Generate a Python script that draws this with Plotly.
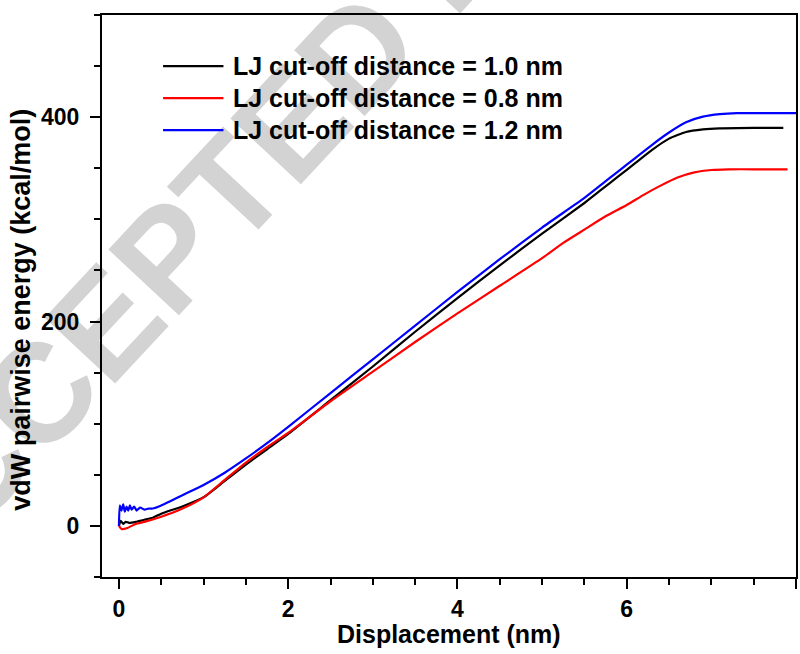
import plotly.graph_objects as go

# ---------------- data ----------------
series_names = ["LJ cut-off distance = 1.0 nm",
                "LJ cut-off distance = 0.8 nm",
                "LJ cut-off distance = 1.2 nm"]
series_colors = ["#000000", "#ff0000", "#0000ff"]

x_10 = [0, 0.02, 0.05, 0.08, 0.12, 0.2, 0.3, 0.4, 0.5, 0.75, 1.0, 1.25, 1.5, 1.75,
        2.0, 2.5, 3.0, 3.5, 4.0, 4.5, 5.0, 5.5, 5.7, 5.9, 6.1, 6.3, 6.5, 6.7,
        6.9, 7.1, 7.5, 7.85]
y_10 = [0, 5, 2, 4, 3, 4, 6, 8, 12, 19, 28, 44, 60, 75,
        90, 123, 156, 190, 223, 255, 286, 316, 329, 342, 355, 368, 379, 385.5,
        388, 389, 389.5, 389.5]

x_08 = [0, 0.03, 0.1, 0.2, 0.3, 0.5, 0.75, 1.0, 1.25, 1.5, 1.75, 2.0, 2.5, 3.0,
        3.5, 4.0, 4.5, 5.0, 5.25, 5.5, 5.75, 6.0, 6.2, 6.4, 6.6, 6.8, 7.0,
        7.2, 7.5, 7.9]
y_08 = [0, -3, -2, 2, 4, 9, 17, 28, 45, 62, 77, 91, 122, 151,
        180, 208, 235, 262, 277, 290, 303, 314, 324, 333, 341, 346, 348.3,
        349, 349, 349]

x_12 = [0, 0.01, 0.03, 0.05, 0.07, 0.09, 0.11, 0.13, 0.15, 0.18, 0.21, 0.25,
        0.3, 0.35, 0.4, 0.5, 0.6, 0.75, 1.0, 1.25, 1.5, 1.75, 2.0, 2.5, 3.0,
        3.5, 4.0, 4.5, 5.0, 5.5, 5.7, 5.9, 6.1, 6.3, 6.5, 6.7, 6.9, 7.1,
        7.3, 7.6, 8.0]
y_12 = [0, 20, 15, 21, 14, 19, 15, 20, 16, 19, 15, 18,
        16, 17, 17, 20, 24, 30, 40, 52, 66, 81, 97, 130, 163,
        196, 229, 261, 292, 321, 334, 347, 360, 373, 385, 395, 400.5, 403,
        404, 404, 404]

x_tick_vals = [0, 2, 4, 6, 8]
x_tick_text = ["0", "2", "4", "6", "8"]
y_tick_vals = [0, 200, 400]
y_tick_text = ["0", "200", "400"]

x_title = "Displacement (nm)"
y_title = "vdW pairwise energy (kcal/mol)"
watermark = "ACCEPTED MANUSCRIPT"

# ---------------- figure ----------------
FONT = "Liberation Sans, Arial, Helvetica, sans-serif"
fig = go.Figure()
for xs, ys, name, col in zip([x_10, x_08, x_12], [y_10, y_08, y_12],
                             series_names, series_colors):
    fig.add_trace(go.Scatter(x=xs, y=ys, mode="lines", name=name,
                             line=dict(color=col, width=2.2, shape="spline",
                                       smoothing=0.5),
                             showlegend=False))

# watermark (behind everything)
wx, wy = 0.503, 1.146
fig.add_shape(type="rect", xref="paper", yref="paper",
              x0=wx - 0.01, x1=wx + 0.01, y0=wy - 0.01, y1=wy + 0.01,
              line=dict(width=0), fillcolor="rgba(0,0,0,0)", layer="below",
              label=dict(text=watermark, textangle=-47, textposition="middle center",
                         font=dict(family=FONT, size=140, color="rgb(211,211,211)",
                                   weight="bold")))

# manual legend (long line samples)
leg_top, leg_step = 0.909, 0.057
for i, (name, col) in enumerate(zip(series_names, series_colors)):
    yp = leg_top - i * leg_step
    fig.add_shape(type="line", xref="paper", yref="paper", x0=0.088, x1=0.175,
                  y0=yp, y1=yp, line=dict(color=col, width=2.2), layer="above")
    fig.add_annotation(x=0.186, y=yp, xref="paper", yref="paper", text=name,
                       showarrow=False, xanchor="left", yanchor="middle",
                       font=dict(family=FONT, size=25, color="black", weight="bold"))

# axis titles
fig.add_annotation(x=0.5, y=-0.102, xref="paper", yref="paper", text=x_title,
                   showarrow=False, xanchor="center", yanchor="middle",
                   font=dict(family=FONT, size=25, color="black", weight="bold"))
fig.add_annotation(x=-0.117, y=0.475, xref="paper", yref="paper", text=y_title,
                   showarrow=False, xanchor="center", yanchor="middle", textangle=-90,
                   font=dict(family=FONT, size=27, color="black", weight="bold"))

axis_common = dict(showgrid=False, zeroline=False, showline=True, linewidth=2,
                   linecolor="black", mirror=True, ticks="outside", ticklen=10,
                   tickwidth=2, tickcolor="black",
                   tickfont=dict(family=FONT, size=23, color="black", weight="bold"))

fig.update_xaxes(range=[-0.2, 8], tickmode="array", tickvals=x_tick_vals,
                 ticktext=x_tick_text,
                 minor=dict(tick0=0, dtick=0.5, ticks="outside", ticklen=6,
                            tickwidth=2, tickcolor="black"),
                 ticklabelstandoff=0, **axis_common)
fig.update_yaxes(range=[-50, 500], tickmode="array", tickvals=y_tick_vals,
                 ticktext=y_tick_text,
                 minor=dict(tick0=0, dtick=50, ticks="outside", ticklen=6,
                            tickwidth=2, tickcolor="black"),
                 ticklabelstandoff=6, **axis_common)

fig.update_layout(width=800, height=654,
                  margin=dict(l=102, r=4, t=15, b=77, autoexpand=False),
                  paper_bgcolor="white", plot_bgcolor="rgba(0,0,0,0)",
                  font=dict(family=FONT, color="black"))

fig.write_html("out.html")
